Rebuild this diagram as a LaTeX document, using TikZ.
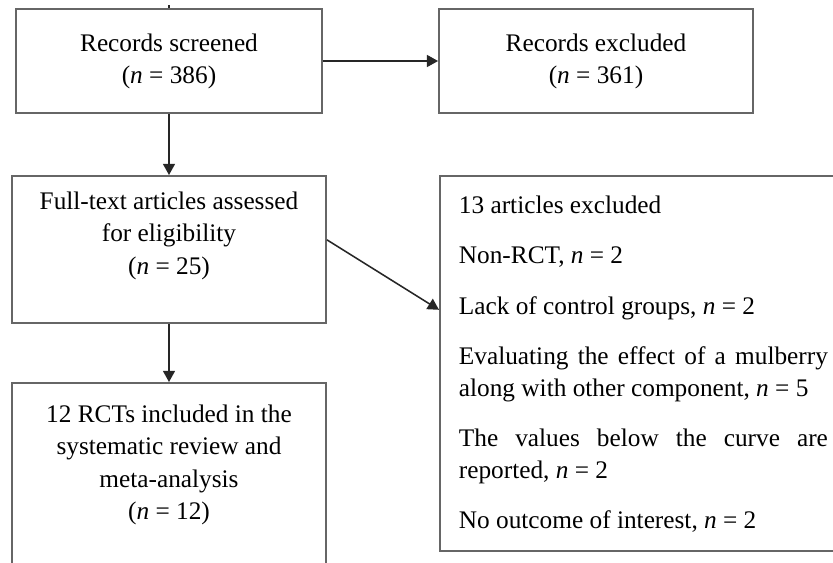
\documentclass[tikz,border=0pt]{standalone}
\usepackage{fontspec}
\setmainfont{Liberation Serif}
\usepackage{tikz}
\usetikzlibrary{arrows.meta, positioning, calc}
\tikzset{
  box/.style    ={rectangle, draw=black!60, line width=1.3pt, align=flush center,
                  font=\fontsize{18}{22.8}\selectfont, inner sep=0pt},
  listbox/.style={rectangle, draw=black!60, line width=1.3pt, align=justify,
                  font=\fontsize{18}{22.8}\selectfont, inner ysep=0pt},
  arrow/.style  ={-{Triangle[length=2.8mm, width=3mm]}, line width=1.1pt, black!85},
  line/.style   ={line width=1.1pt, black!85}
}

\begin{document}
\begin{tikzpicture}
\useasboundingbox (0,0) rectangle (20.825,-14.05);
\clip (0,0) rectangle (20.825,-14.05);

% Boxes (left column)
\node[box, minimum width=7.65cm, minimum height=2.6cm] (screened) at (4.225,-1.525)
     {Records screened\\(\textit{n} = 386)};
\node[box, anchor=north, text width=7.45cm, inner xsep=0.2cm,
      text height=0.85cm, text depth=2.825cm] (fulltext) at (4.225,-4.375)
     {Full-text articles assessed\\for eligibility\\(\textit{n} = 25)};
\node[box, anchor=north, text width=7.45cm, inner xsep=0.2cm,
      text height=1.0cm, text depth=4.45cm] (included) at (4.225,-9.55)
     {12 RCTs included in the\\systematic review and\\meta-analysis\\(\textit{n} = 12)};

% Boxes (right column)
\node[box, minimum width=7.85cm, minimum height=2.6cm] (excluded) at (14.9,-1.525)
     {Records excluded\\(\textit{n} = 361)};
\node[listbox, anchor=north west, text width=9.225cm, inner xsep=0.475cm,
      text height=0.95cm, text depth=8.425cm] (reasons) at (10.975,-4.375)
     {13 articles excluded\\[0.45cm]
      Non-RCT, \textit{n} = 2\\[0.45cm]
      Lack of control groups, \textit{n} = 2\\[0.45cm]
      Evaluating the effect of a mulberry\linebreak along with other component, \textit{n} = 5\\[0.45cm]
      The values below the curve are\linebreak reported, \textit{n} = 2\\[0.45cm]
      No outcome of interest, \textit{n} = 2};

% Arrows
\coordinate (above) at (4.225,-0.12);
\draw[line]  (above) -- (screened.north);
\draw[arrow] (screened) -- (excluded);
\draw[arrow] (screened) -- (fulltext);
\draw[arrow] (fulltext) -- (included);
\draw[arrow] ([yshift=0.24cm]fulltext.east) -- ([yshift=1.34cm]reasons.west);
\end{tikzpicture}
\end{document}
